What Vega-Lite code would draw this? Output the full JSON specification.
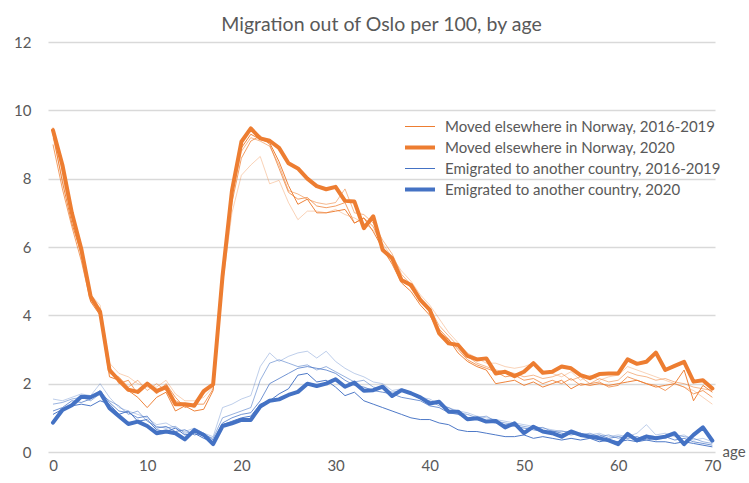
{
"$schema":"https://vega.github.io/schema/vega-lite/v6.json",
"width":667,"height":410,
"autosize":{"type":"none"},
"padding":{"left":48,"top":42,"right":34,"bottom":31},
"background":"white",
"config":{"view":{"stroke":null},"font":"Lato"},
"title":{"text":"Migration out of Oslo per 100, by age","fontSize":19.5,"font":"Lato","fontWeight":"normal","color":"#595959","anchor":"middle","baseline":"alphabetic","offset":11,"dy":26},
"data":{"values":[
{"a":0,"yr":"2016","c":"N1","v":9.2},{"a":1,"yr":"2016","c":"N1","v":8.0},{"a":2,"yr":"2016","c":"N1","v":6.9},{"a":3,"yr":"2016","c":"N1","v":5.7},{"a":4,"yr":"2016","c":"N1","v":4.6},{"a":5,"yr":"2016","c":"N1","v":4.3},{"a":6,"yr":"2016","c":"N1","v":2.6},{"a":7,"yr":"2016","c":"N1","v":2.3},{"a":8,"yr":"2016","c":"N1","v":2.2},{"a":9,"yr":"2016","c":"N1","v":2.0},{"a":10,"yr":"2016","c":"N1","v":1.9},{"a":11,"yr":"2016","c":"N1","v":1.9},{"a":12,"yr":"2016","c":"N1","v":2.1},{"a":13,"yr":"2016","c":"N1","v":1.7},{"a":14,"yr":"2016","c":"N1","v":1.5},{"a":15,"yr":"2016","c":"N1","v":1.5},{"a":16,"yr":"2016","c":"N1","v":1.6},{"a":17,"yr":"2016","c":"N1","v":1.9},{"a":18,"yr":"2016","c":"N1","v":4.9},{"a":19,"yr":"2016","c":"N1","v":7.0},{"a":20,"yr":"2016","c":"N1","v":8.1},{"a":21,"yr":"2016","c":"N1","v":8.4},{"a":22,"yr":"2016","c":"N1","v":8.65},{"a":23,"yr":"2016","c":"N1","v":7.85},{"a":24,"yr":"2016","c":"N1","v":7.95},{"a":25,"yr":"2016","c":"N1","v":7.3},{"a":26,"yr":"2016","c":"N1","v":6.8},{"a":27,"yr":"2016","c":"N1","v":7.05},{"a":28,"yr":"2016","c":"N1","v":7.05},{"a":29,"yr":"2016","c":"N1","v":7.0},{"a":30,"yr":"2016","c":"N1","v":7.1},{"a":31,"yr":"2016","c":"N1","v":6.95},{"a":32,"yr":"2016","c":"N1","v":6.85},{"a":33,"yr":"2016","c":"N1","v":6.7},{"a":34,"yr":"2016","c":"N1","v":6.5},{"a":35,"yr":"2016","c":"N1","v":6.1},{"a":36,"yr":"2016","c":"N1","v":5.7},{"a":37,"yr":"2016","c":"N1","v":5.3},{"a":38,"yr":"2016","c":"N1","v":5.0},{"a":39,"yr":"2016","c":"N1","v":4.6},{"a":40,"yr":"2016","c":"N1","v":4.3},{"a":41,"yr":"2016","c":"N1","v":3.9},{"a":42,"yr":"2016","c":"N1","v":3.5},{"a":43,"yr":"2016","c":"N1","v":3.2},{"a":44,"yr":"2016","c":"N1","v":2.9},{"a":45,"yr":"2016","c":"N1","v":2.75},{"a":46,"yr":"2016","c":"N1","v":2.6},{"a":47,"yr":"2016","c":"N1","v":2.6},{"a":48,"yr":"2016","c":"N1","v":2.5},{"a":49,"yr":"2016","c":"N1","v":2.45},{"a":50,"yr":"2016","c":"N1","v":2.5},{"a":51,"yr":"2016","c":"N1","v":2.6},{"a":52,"yr":"2016","c":"N1","v":2.35},{"a":53,"yr":"2016","c":"N1","v":2.3},{"a":54,"yr":"2016","c":"N1","v":2.2},{"a":55,"yr":"2016","c":"N1","v":2.35},{"a":56,"yr":"2016","c":"N1","v":2.1},{"a":57,"yr":"2016","c":"N1","v":2.25},{"a":58,"yr":"2016","c":"N1","v":2.1},{"a":59,"yr":"2016","c":"N1","v":2.2},{"a":60,"yr":"2016","c":"N1","v":2.25},{"a":61,"yr":"2016","c":"N1","v":2.5},{"a":62,"yr":"2016","c":"N1","v":2.4},{"a":63,"yr":"2016","c":"N1","v":2.3},{"a":64,"yr":"2016","c":"N1","v":2.2},{"a":65,"yr":"2016","c":"N1","v":2.1},{"a":66,"yr":"2016","c":"N1","v":2.0},{"a":67,"yr":"2016","c":"N1","v":1.9},{"a":68,"yr":"2016","c":"N1","v":1.8},{"a":69,"yr":"2016","c":"N1","v":1.6},{"a":70,"yr":"2016","c":"N1","v":1.4},
{"a":0,"yr":"2017","c":"N1","v":9.5},{"a":1,"yr":"2017","c":"N1","v":8.2},{"a":2,"yr":"2017","c":"N1","v":6.9},{"a":3,"yr":"2017","c":"N1","v":5.9},{"a":4,"yr":"2017","c":"N1","v":4.6},{"a":5,"yr":"2017","c":"N1","v":4.1},{"a":6,"yr":"2017","c":"N1","v":2.3},{"a":7,"yr":"2017","c":"N1","v":2.2},{"a":8,"yr":"2017","c":"N1","v":1.9},{"a":9,"yr":"2017","c":"N1","v":2.1},{"a":10,"yr":"2017","c":"N1","v":1.8},{"a":11,"yr":"2017","c":"N1","v":2.0},{"a":12,"yr":"2017","c":"N1","v":1.8},{"a":13,"yr":"2017","c":"N1","v":1.5},{"a":14,"yr":"2017","c":"N1","v":1.4},{"a":15,"yr":"2017","c":"N1","v":1.3},{"a":16,"yr":"2017","c":"N1","v":1.7},{"a":17,"yr":"2017","c":"N1","v":2.0},{"a":18,"yr":"2017","c":"N1","v":5.3},{"a":19,"yr":"2017","c":"N1","v":7.5},{"a":20,"yr":"2017","c":"N1","v":8.8},{"a":21,"yr":"2017","c":"N1","v":9.2},{"a":22,"yr":"2017","c":"N1","v":9.1},{"a":23,"yr":"2017","c":"N1","v":8.95},{"a":24,"yr":"2017","c":"N1","v":8.4},{"a":25,"yr":"2017","c":"N1","v":7.65},{"a":26,"yr":"2017","c":"N1","v":7.55},{"a":27,"yr":"2017","c":"N1","v":7.4},{"a":28,"yr":"2017","c":"N1","v":7.3},{"a":29,"yr":"2017","c":"N1","v":7.25},{"a":30,"yr":"2017","c":"N1","v":7.3},{"a":31,"yr":"2017","c":"N1","v":7.7},{"a":32,"yr":"2017","c":"N1","v":7.0},{"a":33,"yr":"2017","c":"N1","v":6.95},{"a":34,"yr":"2017","c":"N1","v":6.7},{"a":35,"yr":"2017","c":"N1","v":6.2},{"a":36,"yr":"2017","c":"N1","v":5.8},{"a":37,"yr":"2017","c":"N1","v":5.2},{"a":38,"yr":"2017","c":"N1","v":4.9},{"a":39,"yr":"2017","c":"N1","v":4.5},{"a":40,"yr":"2017","c":"N1","v":4.2},{"a":41,"yr":"2017","c":"N1","v":3.7},{"a":42,"yr":"2017","c":"N1","v":3.4},{"a":43,"yr":"2017","c":"N1","v":3.1},{"a":44,"yr":"2017","c":"N1","v":2.8},{"a":45,"yr":"2017","c":"N1","v":2.6},{"a":46,"yr":"2017","c":"N1","v":2.5},{"a":47,"yr":"2017","c":"N1","v":2.4},{"a":48,"yr":"2017","c":"N1","v":2.35},{"a":49,"yr":"2017","c":"N1","v":2.3},{"a":50,"yr":"2017","c":"N1","v":2.2},{"a":51,"yr":"2017","c":"N1","v":2.25},{"a":52,"yr":"2017","c":"N1","v":2.15},{"a":53,"yr":"2017","c":"N1","v":2.2},{"a":54,"yr":"2017","c":"N1","v":2.3},{"a":55,"yr":"2017","c":"N1","v":2.1},{"a":56,"yr":"2017","c":"N1","v":2.2},{"a":57,"yr":"2017","c":"N1","v":2.0},{"a":58,"yr":"2017","c":"N1","v":2.15},{"a":59,"yr":"2017","c":"N1","v":2.05},{"a":60,"yr":"2017","c":"N1","v":2.1},{"a":61,"yr":"2017","c":"N1","v":2.35},{"a":62,"yr":"2017","c":"N1","v":2.25},{"a":63,"yr":"2017","c":"N1","v":2.2},{"a":64,"yr":"2017","c":"N1","v":2.1},{"a":65,"yr":"2017","c":"N1","v":2.15},{"a":66,"yr":"2017","c":"N1","v":2.05},{"a":67,"yr":"2017","c":"N1","v":2.0},{"a":68,"yr":"2017","c":"N1","v":1.9},{"a":69,"yr":"2017","c":"N1","v":1.85},{"a":70,"yr":"2017","c":"N1","v":1.8},
{"a":0,"yr":"2018","c":"N1","v":9.0},{"a":1,"yr":"2018","c":"N1","v":7.7},{"a":2,"yr":"2018","c":"N1","v":6.6},{"a":3,"yr":"2018","c":"N1","v":5.6},{"a":4,"yr":"2018","c":"N1","v":4.4},{"a":5,"yr":"2018","c":"N1","v":4.2},{"a":6,"yr":"2018","c":"N1","v":2.5},{"a":7,"yr":"2018","c":"N1","v":2.0},{"a":8,"yr":"2018","c":"N1","v":2.1},{"a":9,"yr":"2018","c":"N1","v":1.7},{"a":10,"yr":"2018","c":"N1","v":2.0},{"a":11,"yr":"2018","c":"N1","v":1.7},{"a":12,"yr":"2018","c":"N1","v":2.0},{"a":13,"yr":"2018","c":"N1","v":1.6},{"a":14,"yr":"2018","c":"N1","v":1.3},{"a":15,"yr":"2018","c":"N1","v":1.4},{"a":16,"yr":"2018","c":"N1","v":1.4},{"a":17,"yr":"2018","c":"N1","v":1.85},{"a":18,"yr":"2018","c":"N1","v":5.0},{"a":19,"yr":"2018","c":"N1","v":7.3},{"a":20,"yr":"2018","c":"N1","v":8.6},{"a":21,"yr":"2018","c":"N1","v":9.1},{"a":22,"yr":"2018","c":"N1","v":9.25},{"a":23,"yr":"2018","c":"N1","v":9.0},{"a":24,"yr":"2018","c":"N1","v":8.3},{"a":25,"yr":"2018","c":"N1","v":7.6},{"a":26,"yr":"2018","c":"N1","v":7.4},{"a":27,"yr":"2018","c":"N1","v":7.45},{"a":28,"yr":"2018","c":"N1","v":7.2},{"a":29,"yr":"2018","c":"N1","v":7.15},{"a":30,"yr":"2018","c":"N1","v":7.2},{"a":31,"yr":"2018","c":"N1","v":7.3},{"a":32,"yr":"2018","c":"N1","v":6.7},{"a":33,"yr":"2018","c":"N1","v":6.85},{"a":34,"yr":"2018","c":"N1","v":6.6},{"a":35,"yr":"2018","c":"N1","v":6.0},{"a":36,"yr":"2018","c":"N1","v":5.6},{"a":37,"yr":"2018","c":"N1","v":5.1},{"a":38,"yr":"2018","c":"N1","v":4.8},{"a":39,"yr":"2018","c":"N1","v":4.4},{"a":40,"yr":"2018","c":"N1","v":4.1},{"a":41,"yr":"2018","c":"N1","v":3.6},{"a":42,"yr":"2018","c":"N1","v":3.3},{"a":43,"yr":"2018","c":"N1","v":3.0},{"a":44,"yr":"2018","c":"N1","v":2.7},{"a":45,"yr":"2018","c":"N1","v":2.55},{"a":46,"yr":"2018","c":"N1","v":2.45},{"a":47,"yr":"2018","c":"N1","v":2.35},{"a":48,"yr":"2018","c":"N1","v":2.2},{"a":49,"yr":"2018","c":"N1","v":2.25},{"a":50,"yr":"2018","c":"N1","v":2.1},{"a":51,"yr":"2018","c":"N1","v":2.15},{"a":52,"yr":"2018","c":"N1","v":2.0},{"a":53,"yr":"2018","c":"N1","v":2.1},{"a":54,"yr":"2018","c":"N1","v":2.0},{"a":55,"yr":"2018","c":"N1","v":2.15},{"a":56,"yr":"2018","c":"N1","v":1.95},{"a":57,"yr":"2018","c":"N1","v":2.0},{"a":58,"yr":"2018","c":"N1","v":2.05},{"a":59,"yr":"2018","c":"N1","v":1.9},{"a":60,"yr":"2018","c":"N1","v":1.95},{"a":61,"yr":"2018","c":"N1","v":2.2},{"a":62,"yr":"2018","c":"N1","v":2.1},{"a":63,"yr":"2018","c":"N1","v":2.0},{"a":64,"yr":"2018","c":"N1","v":1.95},{"a":65,"yr":"2018","c":"N1","v":1.8},{"a":66,"yr":"2018","c":"N1","v":2.0},{"a":67,"yr":"2018","c":"N1","v":1.9},{"a":68,"yr":"2018","c":"N1","v":1.7},{"a":69,"yr":"2018","c":"N1","v":1.8},{"a":70,"yr":"2018","c":"N1","v":1.6},
{"a":0,"yr":"2019","c":"N1","v":9.3},{"a":1,"yr":"2019","c":"N1","v":7.9},{"a":2,"yr":"2019","c":"N1","v":6.7},{"a":3,"yr":"2019","c":"N1","v":5.8},{"a":4,"yr":"2019","c":"N1","v":4.4},{"a":5,"yr":"2019","c":"N1","v":4.0},{"a":6,"yr":"2019","c":"N1","v":2.2},{"a":7,"yr":"2019","c":"N1","v":2.1},{"a":8,"yr":"2019","c":"N1","v":1.8},{"a":9,"yr":"2019","c":"N1","v":1.6},{"a":10,"yr":"2019","c":"N1","v":1.3},{"a":11,"yr":"2019","c":"N1","v":1.6},{"a":12,"yr":"2019","c":"N1","v":1.75},{"a":13,"yr":"2019","c":"N1","v":1.2},{"a":14,"yr":"2019","c":"N1","v":1.35},{"a":15,"yr":"2019","c":"N1","v":1.2},{"a":16,"yr":"2019","c":"N1","v":1.25},{"a":17,"yr":"2019","c":"N1","v":1.8},{"a":18,"yr":"2019","c":"N1","v":5.2},{"a":19,"yr":"2019","c":"N1","v":7.6},{"a":20,"yr":"2019","c":"N1","v":8.9},{"a":21,"yr":"2019","c":"N1","v":9.3},{"a":22,"yr":"2019","c":"N1","v":9.15},{"a":23,"yr":"2019","c":"N1","v":9.05},{"a":24,"yr":"2019","c":"N1","v":8.5},{"a":25,"yr":"2019","c":"N1","v":7.8},{"a":26,"yr":"2019","c":"N1","v":7.25},{"a":27,"yr":"2019","c":"N1","v":7.4},{"a":28,"yr":"2019","c":"N1","v":7.0},{"a":29,"yr":"2019","c":"N1","v":7.0},{"a":30,"yr":"2019","c":"N1","v":7.05},{"a":31,"yr":"2019","c":"N1","v":7.1},{"a":32,"yr":"2019","c":"N1","v":6.7},{"a":33,"yr":"2019","c":"N1","v":6.85},{"a":34,"yr":"2019","c":"N1","v":6.45},{"a":35,"yr":"2019","c":"N1","v":5.95},{"a":36,"yr":"2019","c":"N1","v":5.5},{"a":37,"yr":"2019","c":"N1","v":4.95},{"a":38,"yr":"2019","c":"N1","v":4.7},{"a":39,"yr":"2019","c":"N1","v":4.3},{"a":40,"yr":"2019","c":"N1","v":4.0},{"a":41,"yr":"2019","c":"N1","v":3.5},{"a":42,"yr":"2019","c":"N1","v":3.3},{"a":43,"yr":"2019","c":"N1","v":2.9},{"a":44,"yr":"2019","c":"N1","v":2.65},{"a":45,"yr":"2019","c":"N1","v":2.5},{"a":46,"yr":"2019","c":"N1","v":2.4},{"a":47,"yr":"2019","c":"N1","v":2.0},{"a":48,"yr":"2019","c":"N1","v":2.05},{"a":49,"yr":"2019","c":"N1","v":2.1},{"a":50,"yr":"2019","c":"N1","v":1.95},{"a":51,"yr":"2019","c":"N1","v":2.05},{"a":52,"yr":"2019","c":"N1","v":1.9},{"a":53,"yr":"2019","c":"N1","v":2.0},{"a":54,"yr":"2019","c":"N1","v":2.1},{"a":55,"yr":"2019","c":"N1","v":1.85},{"a":56,"yr":"2019","c":"N1","v":2.0},{"a":57,"yr":"2019","c":"N1","v":1.95},{"a":58,"yr":"2019","c":"N1","v":2.0},{"a":59,"yr":"2019","c":"N1","v":1.95},{"a":60,"yr":"2019","c":"N1","v":2.0},{"a":61,"yr":"2019","c":"N1","v":2.05},{"a":62,"yr":"2019","c":"N1","v":2.1},{"a":63,"yr":"2019","c":"N1","v":2.0},{"a":64,"yr":"2019","c":"N1","v":1.9},{"a":65,"yr":"2019","c":"N1","v":1.95},{"a":66,"yr":"2019","c":"N1","v":2.0},{"a":67,"yr":"2019","c":"N1","v":2.4},{"a":68,"yr":"2019","c":"N1","v":1.5},{"a":69,"yr":"2019","c":"N1","v":1.95},{"a":70,"yr":"2019","c":"N1","v":1.75},
{"a":0,"yr":"2016","c":"E1","v":1.55},{"a":1,"yr":"2016","c":"E1","v":1.5},{"a":2,"yr":"2016","c":"E1","v":1.6},{"a":3,"yr":"2016","c":"E1","v":1.7},{"a":4,"yr":"2016","c":"E1","v":1.65},{"a":5,"yr":"2016","c":"E1","v":2.0},{"a":6,"yr":"2016","c":"E1","v":1.6},{"a":7,"yr":"2016","c":"E1","v":1.3},{"a":8,"yr":"2016","c":"E1","v":1.2},{"a":9,"yr":"2016","c":"E1","v":1.1},{"a":10,"yr":"2016","c":"E1","v":1.0},{"a":11,"yr":"2016","c":"E1","v":0.8},{"a":12,"yr":"2016","c":"E1","v":0.85},{"a":13,"yr":"2016","c":"E1","v":0.7},{"a":14,"yr":"2016","c":"E1","v":0.6},{"a":15,"yr":"2016","c":"E1","v":0.7},{"a":16,"yr":"2016","c":"E1","v":0.55},{"a":17,"yr":"2016","c":"E1","v":0.45},{"a":18,"yr":"2016","c":"E1","v":1.3},{"a":19,"yr":"2016","c":"E1","v":1.4},{"a":20,"yr":"2016","c":"E1","v":1.55},{"a":21,"yr":"2016","c":"E1","v":1.65},{"a":22,"yr":"2016","c":"E1","v":2.5},{"a":23,"yr":"2016","c":"E1","v":2.9},{"a":24,"yr":"2016","c":"E1","v":2.65},{"a":25,"yr":"2016","c":"E1","v":2.8},{"a":26,"yr":"2016","c":"E1","v":2.9},{"a":27,"yr":"2016","c":"E1","v":2.95},{"a":28,"yr":"2016","c":"E1","v":2.75},{"a":29,"yr":"2016","c":"E1","v":2.95},{"a":30,"yr":"2016","c":"E1","v":2.65},{"a":31,"yr":"2016","c":"E1","v":2.45},{"a":32,"yr":"2016","c":"E1","v":2.3},{"a":33,"yr":"2016","c":"E1","v":2.2},{"a":34,"yr":"2016","c":"E1","v":2.05},{"a":35,"yr":"2016","c":"E1","v":2.0},{"a":36,"yr":"2016","c":"E1","v":1.8},{"a":37,"yr":"2016","c":"E1","v":1.85},{"a":38,"yr":"2016","c":"E1","v":1.75},{"a":39,"yr":"2016","c":"E1","v":1.6},{"a":40,"yr":"2016","c":"E1","v":1.55},{"a":41,"yr":"2016","c":"E1","v":1.4},{"a":42,"yr":"2016","c":"E1","v":1.3},{"a":43,"yr":"2016","c":"E1","v":1.2},{"a":44,"yr":"2016","c":"E1","v":1.15},{"a":45,"yr":"2016","c":"E1","v":1.05},{"a":46,"yr":"2016","c":"E1","v":1.0},{"a":47,"yr":"2016","c":"E1","v":0.95},{"a":48,"yr":"2016","c":"E1","v":0.9},{"a":49,"yr":"2016","c":"E1","v":0.85},{"a":50,"yr":"2016","c":"E1","v":0.8},{"a":51,"yr":"2016","c":"E1","v":0.75},{"a":52,"yr":"2016","c":"E1","v":0.7},{"a":53,"yr":"2016","c":"E1","v":0.65},{"a":54,"yr":"2016","c":"E1","v":0.6},{"a":55,"yr":"2016","c":"E1","v":0.6},{"a":56,"yr":"2016","c":"E1","v":0.55},{"a":57,"yr":"2016","c":"E1","v":0.5},{"a":58,"yr":"2016","c":"E1","v":0.55},{"a":59,"yr":"2016","c":"E1","v":0.45},{"a":60,"yr":"2016","c":"E1","v":0.5},{"a":61,"yr":"2016","c":"E1","v":0.45},{"a":62,"yr":"2016","c":"E1","v":0.55},{"a":63,"yr":"2016","c":"E1","v":0.8},{"a":64,"yr":"2016","c":"E1","v":0.5},{"a":65,"yr":"2016","c":"E1","v":0.55},{"a":66,"yr":"2016","c":"E1","v":0.45},{"a":67,"yr":"2016","c":"E1","v":0.5},{"a":68,"yr":"2016","c":"E1","v":0.35},{"a":69,"yr":"2016","c":"E1","v":0.4},{"a":70,"yr":"2016","c":"E1","v":0.3},
{"a":0,"yr":"2017","c":"E1","v":1.4},{"a":1,"yr":"2017","c":"E1","v":1.45},{"a":2,"yr":"2017","c":"E1","v":1.55},{"a":3,"yr":"2017","c":"E1","v":1.6},{"a":4,"yr":"2017","c":"E1","v":1.5},{"a":5,"yr":"2017","c":"E1","v":1.7},{"a":6,"yr":"2017","c":"E1","v":1.5},{"a":7,"yr":"2017","c":"E1","v":1.35},{"a":8,"yr":"2017","c":"E1","v":1.1},{"a":9,"yr":"2017","c":"E1","v":1.2},{"a":10,"yr":"2017","c":"E1","v":0.9},{"a":11,"yr":"2017","c":"E1","v":0.75},{"a":12,"yr":"2017","c":"E1","v":0.7},{"a":13,"yr":"2017","c":"E1","v":0.75},{"a":14,"yr":"2017","c":"E1","v":0.55},{"a":15,"yr":"2017","c":"E1","v":0.6},{"a":16,"yr":"2017","c":"E1","v":0.5},{"a":17,"yr":"2017","c":"E1","v":0.4},{"a":18,"yr":"2017","c":"E1","v":1.0},{"a":19,"yr":"2017","c":"E1","v":1.1},{"a":20,"yr":"2017","c":"E1","v":1.2},{"a":21,"yr":"2017","c":"E1","v":1.3},{"a":22,"yr":"2017","c":"E1","v":2.1},{"a":23,"yr":"2017","c":"E1","v":2.6},{"a":24,"yr":"2017","c":"E1","v":2.7},{"a":25,"yr":"2017","c":"E1","v":2.6},{"a":26,"yr":"2017","c":"E1","v":2.5},{"a":27,"yr":"2017","c":"E1","v":2.55},{"a":28,"yr":"2017","c":"E1","v":2.4},{"a":29,"yr":"2017","c":"E1","v":2.5},{"a":30,"yr":"2017","c":"E1","v":2.35},{"a":31,"yr":"2017","c":"E1","v":2.2},{"a":32,"yr":"2017","c":"E1","v":2.05},{"a":33,"yr":"2017","c":"E1","v":2.1},{"a":34,"yr":"2017","c":"E1","v":1.9},{"a":35,"yr":"2017","c":"E1","v":1.85},{"a":36,"yr":"2017","c":"E1","v":1.75},{"a":37,"yr":"2017","c":"E1","v":1.8},{"a":38,"yr":"2017","c":"E1","v":1.7},{"a":39,"yr":"2017","c":"E1","v":1.55},{"a":40,"yr":"2017","c":"E1","v":1.5},{"a":41,"yr":"2017","c":"E1","v":1.35},{"a":42,"yr":"2017","c":"E1","v":1.3},{"a":43,"yr":"2017","c":"E1","v":1.15},{"a":44,"yr":"2017","c":"E1","v":1.1},{"a":45,"yr":"2017","c":"E1","v":1.0},{"a":46,"yr":"2017","c":"E1","v":1.05},{"a":47,"yr":"2017","c":"E1","v":0.9},{"a":48,"yr":"2017","c":"E1","v":0.85},{"a":49,"yr":"2017","c":"E1","v":0.8},{"a":50,"yr":"2017","c":"E1","v":0.75},{"a":51,"yr":"2017","c":"E1","v":0.7},{"a":52,"yr":"2017","c":"E1","v":0.72},{"a":53,"yr":"2017","c":"E1","v":0.6},{"a":54,"yr":"2017","c":"E1","v":0.62},{"a":55,"yr":"2017","c":"E1","v":0.55},{"a":56,"yr":"2017","c":"E1","v":0.5},{"a":57,"yr":"2017","c":"E1","v":0.55},{"a":58,"yr":"2017","c":"E1","v":0.45},{"a":59,"yr":"2017","c":"E1","v":0.5},{"a":60,"yr":"2017","c":"E1","v":0.4},{"a":61,"yr":"2017","c":"E1","v":0.45},{"a":62,"yr":"2017","c":"E1","v":0.4},{"a":63,"yr":"2017","c":"E1","v":0.5},{"a":64,"yr":"2017","c":"E1","v":0.45},{"a":65,"yr":"2017","c":"E1","v":0.4},{"a":66,"yr":"2017","c":"E1","v":0.5},{"a":67,"yr":"2017","c":"E1","v":0.45},{"a":68,"yr":"2017","c":"E1","v":0.4},{"a":69,"yr":"2017","c":"E1","v":0.3},{"a":70,"yr":"2017","c":"E1","v":0.25},
{"a":0,"yr":"2018","c":"E1","v":1.2},{"a":1,"yr":"2018","c":"E1","v":1.3},{"a":2,"yr":"2018","c":"E1","v":1.5},{"a":3,"yr":"2018","c":"E1","v":1.45},{"a":4,"yr":"2018","c":"E1","v":1.55},{"a":5,"yr":"2018","c":"E1","v":1.8},{"a":6,"yr":"2018","c":"E1","v":1.45},{"a":7,"yr":"2018","c":"E1","v":1.2},{"a":8,"yr":"2018","c":"E1","v":1.15},{"a":9,"yr":"2018","c":"E1","v":1.0},{"a":10,"yr":"2018","c":"E1","v":1.05},{"a":11,"yr":"2018","c":"E1","v":0.7},{"a":12,"yr":"2018","c":"E1","v":0.75},{"a":13,"yr":"2018","c":"E1","v":0.6},{"a":14,"yr":"2018","c":"E1","v":0.65},{"a":15,"yr":"2018","c":"E1","v":0.5},{"a":16,"yr":"2018","c":"E1","v":0.55},{"a":17,"yr":"2018","c":"E1","v":0.35},{"a":18,"yr":"2018","c":"E1","v":0.85},{"a":19,"yr":"2018","c":"E1","v":1.0},{"a":20,"yr":"2018","c":"E1","v":1.1},{"a":21,"yr":"2018","c":"E1","v":1.15},{"a":22,"yr":"2018","c":"E1","v":1.5},{"a":23,"yr":"2018","c":"E1","v":2.0},{"a":24,"yr":"2018","c":"E1","v":2.15},{"a":25,"yr":"2018","c":"E1","v":2.3},{"a":26,"yr":"2018","c":"E1","v":2.45},{"a":27,"yr":"2018","c":"E1","v":2.5},{"a":28,"yr":"2018","c":"E1","v":2.45},{"a":29,"yr":"2018","c":"E1","v":2.4},{"a":30,"yr":"2018","c":"E1","v":2.3},{"a":31,"yr":"2018","c":"E1","v":2.1},{"a":32,"yr":"2018","c":"E1","v":1.95},{"a":33,"yr":"2018","c":"E1","v":1.9},{"a":34,"yr":"2018","c":"E1","v":1.8},{"a":35,"yr":"2018","c":"E1","v":1.75},{"a":36,"yr":"2018","c":"E1","v":1.7},{"a":37,"yr":"2018","c":"E1","v":1.6},{"a":38,"yr":"2018","c":"E1","v":1.55},{"a":39,"yr":"2018","c":"E1","v":1.5},{"a":40,"yr":"2018","c":"E1","v":1.35},{"a":41,"yr":"2018","c":"E1","v":1.3},{"a":42,"yr":"2018","c":"E1","v":1.15},{"a":43,"yr":"2018","c":"E1","v":1.1},{"a":44,"yr":"2018","c":"E1","v":1.0},{"a":45,"yr":"2018","c":"E1","v":0.95},{"a":46,"yr":"2018","c":"E1","v":0.9},{"a":47,"yr":"2018","c":"E1","v":0.85},{"a":48,"yr":"2018","c":"E1","v":0.8},{"a":49,"yr":"2018","c":"E1","v":0.75},{"a":50,"yr":"2018","c":"E1","v":0.7},{"a":51,"yr":"2018","c":"E1","v":0.65},{"a":52,"yr":"2018","c":"E1","v":0.6},{"a":53,"yr":"2018","c":"E1","v":0.62},{"a":54,"yr":"2018","c":"E1","v":0.55},{"a":55,"yr":"2018","c":"E1","v":0.5},{"a":56,"yr":"2018","c":"E1","v":0.55},{"a":57,"yr":"2018","c":"E1","v":0.45},{"a":58,"yr":"2018","c":"E1","v":0.5},{"a":59,"yr":"2018","c":"E1","v":0.4},{"a":60,"yr":"2018","c":"E1","v":0.45},{"a":61,"yr":"2018","c":"E1","v":0.4},{"a":62,"yr":"2018","c":"E1","v":0.45},{"a":63,"yr":"2018","c":"E1","v":0.35},{"a":64,"yr":"2018","c":"E1","v":0.4},{"a":65,"yr":"2018","c":"E1","v":0.45},{"a":66,"yr":"2018","c":"E1","v":0.35},{"a":67,"yr":"2018","c":"E1","v":0.4},{"a":68,"yr":"2018","c":"E1","v":0.3},{"a":69,"yr":"2018","c":"E1","v":0.25},{"a":70,"yr":"2018","c":"E1","v":0.2},
{"a":0,"yr":"2019","c":"E1","v":1.1},{"a":1,"yr":"2019","c":"E1","v":1.25},{"a":2,"yr":"2019","c":"E1","v":1.35},{"a":3,"yr":"2019","c":"E1","v":1.4},{"a":4,"yr":"2019","c":"E1","v":1.35},{"a":5,"yr":"2019","c":"E1","v":1.5},{"a":6,"yr":"2019","c":"E1","v":1.4},{"a":7,"yr":"2019","c":"E1","v":1.1},{"a":8,"yr":"2019","c":"E1","v":1.2},{"a":9,"yr":"2019","c":"E1","v":0.9},{"a":10,"yr":"2019","c":"E1","v":0.95},{"a":11,"yr":"2019","c":"E1","v":0.65},{"a":12,"yr":"2019","c":"E1","v":0.6},{"a":13,"yr":"2019","c":"E1","v":0.7},{"a":14,"yr":"2019","c":"E1","v":0.5},{"a":15,"yr":"2019","c":"E1","v":0.55},{"a":16,"yr":"2019","c":"E1","v":0.4},{"a":17,"yr":"2019","c":"E1","v":0.3},{"a":18,"yr":"2019","c":"E1","v":0.8},{"a":19,"yr":"2019","c":"E1","v":0.9},{"a":20,"yr":"2019","c":"E1","v":1.0},{"a":21,"yr":"2019","c":"E1","v":1.05},{"a":22,"yr":"2019","c":"E1","v":1.4},{"a":23,"yr":"2019","c":"E1","v":1.5},{"a":24,"yr":"2019","c":"E1","v":1.7},{"a":25,"yr":"2019","c":"E1","v":1.85},{"a":26,"yr":"2019","c":"E1","v":2.25},{"a":27,"yr":"2019","c":"E1","v":2.3},{"a":28,"yr":"2019","c":"E1","v":2.05},{"a":29,"yr":"2019","c":"E1","v":2.1},{"a":30,"yr":"2019","c":"E1","v":1.9},{"a":31,"yr":"2019","c":"E1","v":1.65},{"a":32,"yr":"2019","c":"E1","v":1.75},{"a":33,"yr":"2019","c":"E1","v":1.5},{"a":34,"yr":"2019","c":"E1","v":1.4},{"a":35,"yr":"2019","c":"E1","v":1.3},{"a":36,"yr":"2019","c":"E1","v":1.2},{"a":37,"yr":"2019","c":"E1","v":1.1},{"a":38,"yr":"2019","c":"E1","v":1.0},{"a":39,"yr":"2019","c":"E1","v":0.95},{"a":40,"yr":"2019","c":"E1","v":0.95},{"a":41,"yr":"2019","c":"E1","v":0.85},{"a":42,"yr":"2019","c":"E1","v":0.8},{"a":43,"yr":"2019","c":"E1","v":0.65},{"a":44,"yr":"2019","c":"E1","v":0.6},{"a":45,"yr":"2019","c":"E1","v":0.6},{"a":46,"yr":"2019","c":"E1","v":0.55},{"a":47,"yr":"2019","c":"E1","v":0.5},{"a":48,"yr":"2019","c":"E1","v":0.45},{"a":49,"yr":"2019","c":"E1","v":0.45},{"a":50,"yr":"2019","c":"E1","v":0.5},{"a":51,"yr":"2019","c":"E1","v":0.4},{"a":52,"yr":"2019","c":"E1","v":0.45},{"a":53,"yr":"2019","c":"E1","v":0.4},{"a":54,"yr":"2019","c":"E1","v":0.35},{"a":55,"yr":"2019","c":"E1","v":0.4},{"a":56,"yr":"2019","c":"E1","v":0.35},{"a":57,"yr":"2019","c":"E1","v":0.4},{"a":58,"yr":"2019","c":"E1","v":0.3},{"a":59,"yr":"2019","c":"E1","v":0.35},{"a":60,"yr":"2019","c":"E1","v":0.3},{"a":61,"yr":"2019","c":"E1","v":0.35},{"a":62,"yr":"2019","c":"E1","v":0.3},{"a":63,"yr":"2019","c":"E1","v":0.35},{"a":64,"yr":"2019","c":"E1","v":0.3},{"a":65,"yr":"2019","c":"E1","v":0.3},{"a":66,"yr":"2019","c":"E1","v":0.25},{"a":67,"yr":"2019","c":"E1","v":0.3},{"a":68,"yr":"2019","c":"E1","v":0.25},{"a":69,"yr":"2019","c":"E1","v":0.2},{"a":70,"yr":"2019","c":"E1","v":0.15},
{"a":0,"yr":"2020","c":"N2","v":9.42},{"a":1,"yr":"2020","c":"N2","v":8.4},{"a":2,"yr":"2020","c":"N2","v":7.0},{"a":3,"yr":"2020","c":"N2","v":5.95},{"a":4,"yr":"2020","c":"N2","v":4.55},{"a":5,"yr":"2020","c":"N2","v":4.1},{"a":6,"yr":"2020","c":"N2","v":2.4},{"a":7,"yr":"2020","c":"N2","v":2.1},{"a":8,"yr":"2020","c":"N2","v":1.82},{"a":9,"yr":"2020","c":"N2","v":1.76},{"a":10,"yr":"2020","c":"N2","v":2.0},{"a":11,"yr":"2020","c":"N2","v":1.78},{"a":12,"yr":"2020","c":"N2","v":1.9},{"a":13,"yr":"2020","c":"N2","v":1.4},{"a":14,"yr":"2020","c":"N2","v":1.4},{"a":15,"yr":"2020","c":"N2","v":1.36},{"a":16,"yr":"2020","c":"N2","v":1.78},{"a":17,"yr":"2020","c":"N2","v":1.98},{"a":18,"yr":"2020","c":"N2","v":5.15},{"a":19,"yr":"2020","c":"N2","v":7.65},{"a":20,"yr":"2020","c":"N2","v":9.08},{"a":21,"yr":"2020","c":"N2","v":9.47},{"a":22,"yr":"2020","c":"N2","v":9.18},{"a":23,"yr":"2020","c":"N2","v":9.11},{"a":24,"yr":"2020","c":"N2","v":8.9},{"a":25,"yr":"2020","c":"N2","v":8.45},{"a":26,"yr":"2020","c":"N2","v":8.3},{"a":27,"yr":"2020","c":"N2","v":8.0},{"a":28,"yr":"2020","c":"N2","v":7.78},{"a":29,"yr":"2020","c":"N2","v":7.69},{"a":30,"yr":"2020","c":"N2","v":7.76},{"a":31,"yr":"2020","c":"N2","v":7.35},{"a":32,"yr":"2020","c":"N2","v":7.33},{"a":33,"yr":"2020","c":"N2","v":6.55},{"a":34,"yr":"2020","c":"N2","v":6.9},{"a":35,"yr":"2020","c":"N2","v":5.91},{"a":36,"yr":"2020","c":"N2","v":5.67},{"a":37,"yr":"2020","c":"N2","v":5.03},{"a":38,"yr":"2020","c":"N2","v":4.89},{"a":39,"yr":"2020","c":"N2","v":4.45},{"a":40,"yr":"2020","c":"N2","v":4.16},{"a":41,"yr":"2020","c":"N2","v":3.47},{"a":42,"yr":"2020","c":"N2","v":3.18},{"a":43,"yr":"2020","c":"N2","v":3.13},{"a":44,"yr":"2020","c":"N2","v":2.81},{"a":45,"yr":"2020","c":"N2","v":2.71},{"a":46,"yr":"2020","c":"N2","v":2.74},{"a":47,"yr":"2020","c":"N2","v":2.3},{"a":48,"yr":"2020","c":"N2","v":2.35},{"a":49,"yr":"2020","c":"N2","v":2.22},{"a":50,"yr":"2020","c":"N2","v":2.35},{"a":51,"yr":"2020","c":"N2","v":2.6},{"a":52,"yr":"2020","c":"N2","v":2.32},{"a":53,"yr":"2020","c":"N2","v":2.35},{"a":54,"yr":"2020","c":"N2","v":2.5},{"a":55,"yr":"2020","c":"N2","v":2.45},{"a":56,"yr":"2020","c":"N2","v":2.25},{"a":57,"yr":"2020","c":"N2","v":2.16},{"a":58,"yr":"2020","c":"N2","v":2.28},{"a":59,"yr":"2020","c":"N2","v":2.3},{"a":60,"yr":"2020","c":"N2","v":2.3},{"a":61,"yr":"2020","c":"N2","v":2.71},{"a":62,"yr":"2020","c":"N2","v":2.58},{"a":63,"yr":"2020","c":"N2","v":2.64},{"a":64,"yr":"2020","c":"N2","v":2.91},{"a":65,"yr":"2020","c":"N2","v":2.4},{"a":66,"yr":"2020","c":"N2","v":2.52},{"a":67,"yr":"2020","c":"N2","v":2.64},{"a":68,"yr":"2020","c":"N2","v":2.06},{"a":69,"yr":"2020","c":"N2","v":2.1},{"a":70,"yr":"2020","c":"N2","v":1.86},
{"a":0,"yr":"2020","c":"E2","v":0.86},{"a":1,"yr":"2020","c":"E2","v":1.23},{"a":2,"yr":"2020","c":"E2","v":1.37},{"a":3,"yr":"2020","c":"E2","v":1.62},{"a":4,"yr":"2020","c":"E2","v":1.6},{"a":5,"yr":"2020","c":"E2","v":1.74},{"a":6,"yr":"2020","c":"E2","v":1.28},{"a":7,"yr":"2020","c":"E2","v":1.05},{"a":8,"yr":"2020","c":"E2","v":0.82},{"a":9,"yr":"2020","c":"E2","v":0.89},{"a":10,"yr":"2020","c":"E2","v":0.76},{"a":11,"yr":"2020","c":"E2","v":0.55},{"a":12,"yr":"2020","c":"E2","v":0.6},{"a":13,"yr":"2020","c":"E2","v":0.55},{"a":14,"yr":"2020","c":"E2","v":0.37},{"a":15,"yr":"2020","c":"E2","v":0.64},{"a":16,"yr":"2020","c":"E2","v":0.5},{"a":17,"yr":"2020","c":"E2","v":0.23},{"a":18,"yr":"2020","c":"E2","v":0.76},{"a":19,"yr":"2020","c":"E2","v":0.84},{"a":20,"yr":"2020","c":"E2","v":0.94},{"a":21,"yr":"2020","c":"E2","v":0.94},{"a":22,"yr":"2020","c":"E2","v":1.33},{"a":23,"yr":"2020","c":"E2","v":1.5},{"a":24,"yr":"2020","c":"E2","v":1.54},{"a":25,"yr":"2020","c":"E2","v":1.67},{"a":26,"yr":"2020","c":"E2","v":1.76},{"a":27,"yr":"2020","c":"E2","v":2.0},{"a":28,"yr":"2020","c":"E2","v":1.93},{"a":29,"yr":"2020","c":"E2","v":2.0},{"a":30,"yr":"2020","c":"E2","v":2.13},{"a":31,"yr":"2020","c":"E2","v":1.91},{"a":32,"yr":"2020","c":"E2","v":2.03},{"a":33,"yr":"2020","c":"E2","v":1.79},{"a":34,"yr":"2020","c":"E2","v":1.81},{"a":35,"yr":"2020","c":"E2","v":1.91},{"a":36,"yr":"2020","c":"E2","v":1.64},{"a":37,"yr":"2020","c":"E2","v":1.81},{"a":38,"yr":"2020","c":"E2","v":1.72},{"a":39,"yr":"2020","c":"E2","v":1.6},{"a":40,"yr":"2020","c":"E2","v":1.42},{"a":41,"yr":"2020","c":"E2","v":1.47},{"a":42,"yr":"2020","c":"E2","v":1.18},{"a":43,"yr":"2020","c":"E2","v":1.18},{"a":44,"yr":"2020","c":"E2","v":0.96},{"a":45,"yr":"2020","c":"E2","v":0.99},{"a":46,"yr":"2020","c":"E2","v":0.89},{"a":47,"yr":"2020","c":"E2","v":0.91},{"a":48,"yr":"2020","c":"E2","v":0.72},{"a":49,"yr":"2020","c":"E2","v":0.84},{"a":50,"yr":"2020","c":"E2","v":0.55},{"a":51,"yr":"2020","c":"E2","v":0.74},{"a":52,"yr":"2020","c":"E2","v":0.6},{"a":53,"yr":"2020","c":"E2","v":0.55},{"a":54,"yr":"2020","c":"E2","v":0.45},{"a":55,"yr":"2020","c":"E2","v":0.6},{"a":56,"yr":"2020","c":"E2","v":0.5},{"a":57,"yr":"2020","c":"E2","v":0.45},{"a":58,"yr":"2020","c":"E2","v":0.4},{"a":59,"yr":"2020","c":"E2","v":0.34},{"a":60,"yr":"2020","c":"E2","v":0.23},{"a":61,"yr":"2020","c":"E2","v":0.53},{"a":62,"yr":"2020","c":"E2","v":0.34},{"a":63,"yr":"2020","c":"E2","v":0.45},{"a":64,"yr":"2020","c":"E2","v":0.4},{"a":65,"yr":"2020","c":"E2","v":0.45},{"a":66,"yr":"2020","c":"E2","v":0.55},{"a":67,"yr":"2020","c":"E2","v":0.23},{"a":68,"yr":"2020","c":"E2","v":0.5},{"a":69,"yr":"2020","c":"E2","v":0.72},{"a":70,"yr":"2020","c":"E2","v":0.33}
]},
"encoding":{
"x":{"field":"a","type":"quantitative","scale":{"domain":[-0.53,70.28],"nice":false,"zero":false},
 "axis":{"values":[0,10,20,30,40,50,60,70],"grid":false,"domain":false,"ticks":false,"labelFontSize":15,"labelColor":"#595959","labelPadding":6,"labelFont":"Lato","title":"age","titleFont":"Lato","titleFontSize":15,"titleFontWeight":"normal","titleColor":"#595959","titleX":674,"titleY":4,"titleAlign":"left","titleBaseline":"alphabetic","titleAnchor":"start"}},
"y":{"field":"v","type":"quantitative","scale":{"domain":[0,12],"nice":false},
 "axis":{"values":[0,2,4,6,8,10,12],"grid":true,"gridColor":"#d9d9d9","gridWidth":1.3,"domain":false,"ticks":false,"labelFontSize":15,"labelColor":"#595959","labelPadding":17,"labelFont":"Lato","title":null}},
"color":{"field":"c","type":"nominal","scale":{"domain":["N1","N2","E1","E2"],"range":["#ED7D31","#ED7D31","#4472C4","#4472C4"]},
 "legend":{"title":null,"orient":"none","legendX":355,"legendY":74,"symbolType":"stroke","symbolSize":900,"clipHeight":21,"rowPadding":0,"labelFontSize":15,"labelFont":"Lato","labelColor":"#595959","labelOffset":8,"labelLimit":400,"symbolOpacity":1,
 "labelExpr":"datum.value == 'N1' ? 'Moved elsewhere in Norway, 2016-2019' : datum.value == 'N2' ? 'Moved elsewhere in Norway, 2020' : datum.value == 'E1' ? 'Emigrated to another country, 2016-2019' : 'Emigrated to another country, 2020'"}},
"strokeWidth":{"field":"c","type":"nominal","scale":{"type":"ordinal","domain":["N1","N2","E1","E2"],"range":[1,4,1,4]},
 "legend":{"title":null,"orient":"none","legendX":355,"legendY":74,"symbolType":"stroke","symbolSize":900,"clipHeight":21,"rowPadding":0,"labelFontSize":15,"labelFont":"Lato","labelColor":"#595959","labelOffset":8,"labelLimit":400,"symbolOpacity":1,
 "labelExpr":"datum.value == 'N1' ? 'Moved elsewhere in Norway, 2016-2019' : datum.value == 'N2' ? 'Moved elsewhere in Norway, 2020' : datum.value == 'E1' ? 'Emigrated to another country, 2016-2019' : 'Emigrated to another country, 2020'"}},
"opacity":{"field":"yr","type":"nominal","scale":{"type":"ordinal","domain":["2016","2017","2018","2019","2020"],"range":[0.35,0.55,0.75,0.95,1]},"legend":null},
"detail":{"field":"yr"}
},
"layer":[
{"transform":[{"filter":"datum.yr != '2020'"}],"mark":{"type":"line","strokeJoin":"round"}},
{"transform":[{"filter":"datum.yr == '2020'"}],"mark":{"type":"line","strokeJoin":"round","strokeCap":"round"}}
]
}
